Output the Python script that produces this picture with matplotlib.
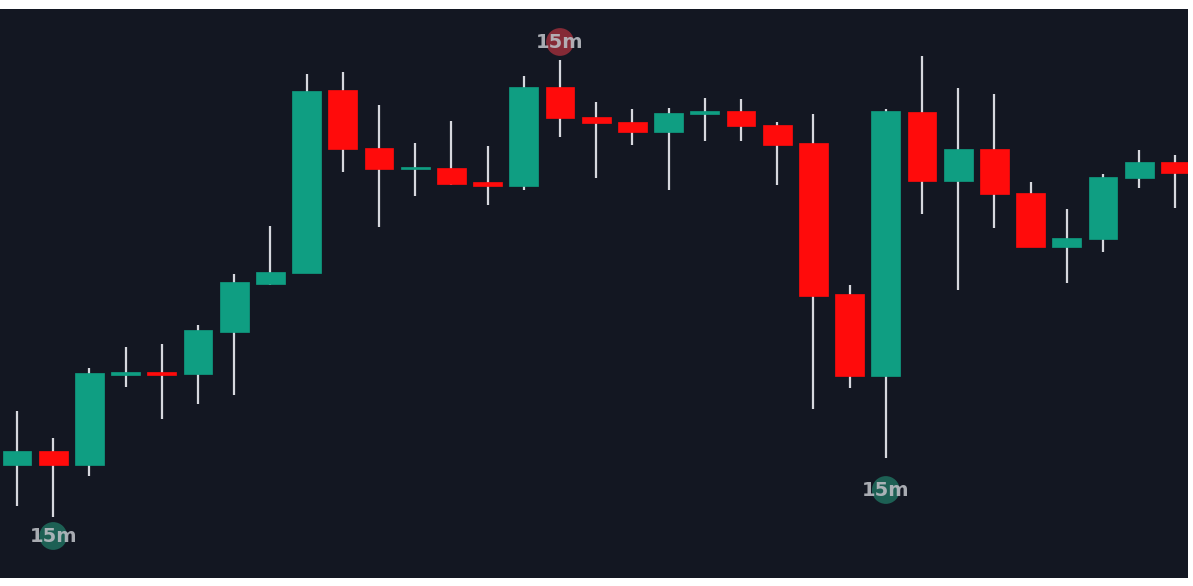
import matplotlib
matplotlib.use("Agg")
import matplotlib.pyplot as plt
from matplotlib.patches import Rectangle

# OHLC values (arbitrary price units)
opens  = [135, 149, 135, 226, 227, 226, 268, 316, 327, 510, 452, 431.5, 432, 418, 414, 513, 483,
          478, 468, 486, 489, 475, 457, 306, 224, 488, 419, 451, 407, 353, 361, 422, 438]
closes = [149, 135, 227, 227, 226, 270, 318, 328, 509, 451, 431, 432.5, 416, 414, 513, 482, 477,
          468, 487, 489, 474, 455, 304, 224, 489, 419, 451, 406, 353, 362, 423, 438, 427]
highs  = [189, 162, 232, 253, 256, 275, 326, 374, 526, 528, 495, 457, 479, 454, 524, 540, 498,
          491, 492, 502, 501, 478, 486, 315, 491, 544, 512, 506, 418, 391, 426, 450, 445]
lows   = [94, 83, 124, 213, 181, 196, 205, 315, 327, 428, 373, 404, 415, 395, 410, 463, 422,
          455, 410, 459, 459, 415, 191, 212, 142, 386, 310, 372, 353, 317, 348, 412, 392]

# "15m" markers: candle index, price position, kind
marker_idx   = [1, 15, 24]
marker_price = [64, 558, 110]
marker_kind  = ["bull", "bear", "bull"]
marker_text  = "15m"

BG = "#131722"
UP = "#0f9e82"
DOWN = "#ff0b0b"
WICK = "#d6d8de"

W, H = 1193, 586
fig = plt.figure(figsize=(W / 100, H / 100), dpi=100, facecolor="white")
ax = fig.add_axes([0 / W, (H - 578) / H, 1188 / W, (578 - 9) / H])
ax.set_facecolor(BG)
for s in ax.spines.values():
    s.set_visible(False)
ax.set_xticks([])
ax.set_yticks([])

body_w = 0.8
min_body = 2.5
for i, (o, c, h, l) in enumerate(zip(opens, closes, highs, lows)):
    col = UP if c >= o else DOWN
    ax.plot([i, i], [l, h], color=WICK, lw=1.6, solid_capstyle="butt", zorder=2)
    bot = min(o, c)
    hgt = abs(c - o)
    if hgt < min_body:
        bot = (o + c) / 2 - min_body / 2
        hgt = min_body
    ax.add_patch(Rectangle((i - body_w / 2, bot), body_w, hgt, facecolor=col,
                           edgecolor=col, lw=0.5, zorder=3))

for idx, p, kind in zip(marker_idx, marker_price, marker_kind):
    cc = "#1f6e5e" if kind == "bull" else "#9a2e3a"
    ax.scatter([idx], [p], s=400, color=cc, alpha=0.85, edgecolors="none", zorder=4)
    ax.text(idx, p, marker_text, ha="center", va="center", fontsize=14,
            fontweight="bold", color="#b9bcc2", alpha=0.9, zorder=5,
            family="DejaVu Sans")

ax.set_xlim((0 - 17) / 36.2, (1188 - 17) / 36.2)
ax.set_ylim(600 - 578, 600 - 9)

fig.savefig("out.png", dpi=100, facecolor="white")
